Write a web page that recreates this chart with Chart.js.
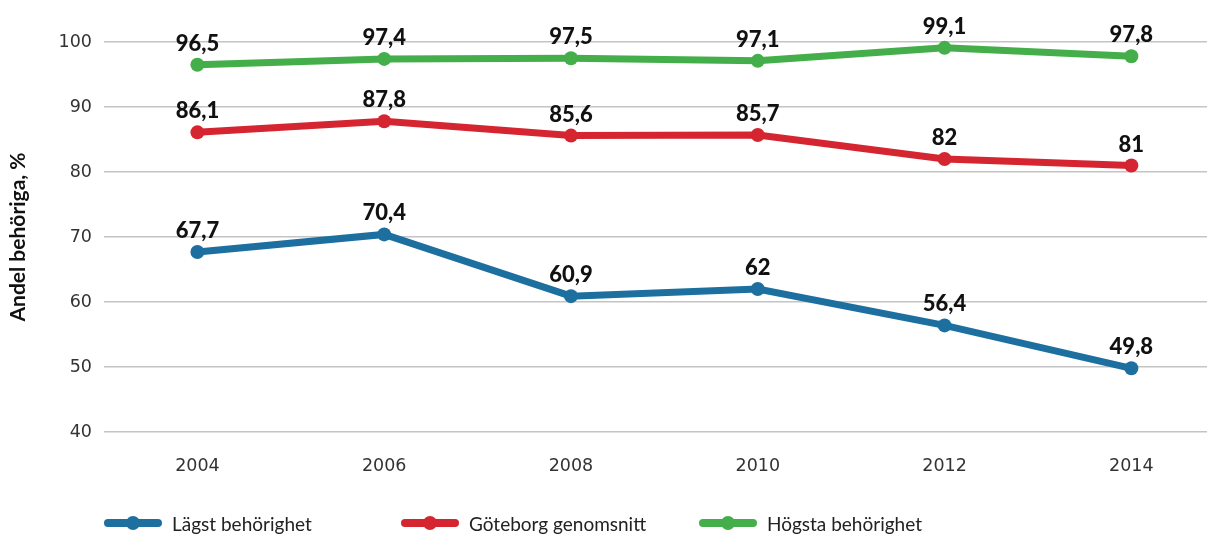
<!DOCTYPE html>
<html>
<head>
<meta charset="utf-8">
<script src="https://cdn.jsdelivr.net/npm/chart.js@4.4.1/dist/chart.umd.min.js"></script>
<style>
  html, body { margin: 0; padding: 0; background: #fff; overflow: hidden; }
  #wrap { position: relative; width: 1214px; height: 534px; }
  #c { position: absolute; left: 0; top: 0; }
  .leg { position: absolute; top: 512px; height: 22px; display: flex; align-items: center;
         font-family: Lato, "Open Sans", sans-serif; font-size: 19px; color: #222; }
  .sw { position: relative; width: 58px; height: 8px; border-radius: 4px; margin-right: 10px; }
  .sw::after { content: ""; position: absolute; left: 22px; top: -3px; width: 14px; height: 14px;
               border-radius: 50%; background: inherit; }
</style>
</head>
<body>
<div id="wrap">
  <canvas id="c" width="1214" height="534"></canvas>
  <div id="legend"></div>
</div>
<script>
const years = [2004, 2006, 2008, 2010, 2012, 2014];
const seriesNames = ["Lägst behörighet", "Göteborg genomsnitt", "Högsta behörighet"];
const lowest = [67.7, 70.4, 60.9, 62, 56.4, 49.8];
const average = [86.1, 87.8, 85.6, 85.7, 82, 81];
const highest = [96.5, 97.4, 97.5, 97.1, 99.1, 97.8];
const yTicks = [40, 50, 60, 70, 80, 90, 100];
const yTitle = "Andel behöriga, %";
const colors = ["#1d6fa0", "#d52530", "#44ae4a"];

const allSeries = [lowest, average, highest];
const datasets = allSeries.map((vals, i) => ({
  label: seriesNames[i],
  data: vals.map((v, j) => ({ x: years[j], y: v })),
  borderColor: colors[i],
  backgroundColor: colors[i],
  borderWidth: 7,
  pointRadius: 7,
  pointHoverRadius: 7,
  pointBorderWidth: 0,
  tension: 0,
  clip: false
}));

const fmt = v => String(v).replace('.', ',');

const labelPlugin = {
  id: 'valueLabels',
  afterDatasetsDraw(chart) {
    const ctx = chart.ctx;
    ctx.save();
    ctx.font = '900 22px Lato, "Open Sans", sans-serif';
    ctx.fillStyle = '#111';
    ctx.textAlign = 'center';
    ctx.textBaseline = 'middle';
    chart.data.datasets.forEach((ds, i) => {
      const meta = chart.getDatasetMeta(i);
      meta.data.forEach((pt, j) => {
        ctx.fillText(fmt(allSeries[i][j]), pt.x, pt.y - 21);
      });
    });
    ctx.restore();
  }
};

const tickFont = { family: '"DejaVu Sans", sans-serif', size: 17.5 };

new Chart(document.getElementById('c'), {
  type: 'line',
  data: { datasets },
  options: {
    responsive: false,
    animation: false,
    layout: { padding: { top: 42, left: 0, right: 0, bottom: 0 } },
    plugins: { legend: { display: false }, tooltip: { enabled: false } },
    scales: {
      x: {
        type: 'linear',
        min: 2003,
        max: 2014.81,
        afterBuildTicks: s => { s.ticks = years.map(v => ({ value: v })); },
        afterFit: s => { s.height = 102; },
        grid: { display: false, drawTicks: false },
        border: { display: false },
        ticks: {
          padding: 24,
          color: '#333',
          font: tickFont,
          callback: v => String(v),
          autoSkip: false,
          maxRotation: 0
        }
      },
      y: {
        min: 40,
        max: 100,
        afterBuildTicks: s => { s.ticks = yTicks.map(v => ({ value: v })); },
        afterFit: s => { s.width = 104; },
        grid: { color: '#c4c4c4', lineWidth: 1.5, drawTicks: false },
        border: { display: false },
        ticks: {
          padding: 12,
          color: '#333',
          font: tickFont
        },
        title: {
          display: true,
          text: yTitle,
          color: '#111',
          font: { family: 'Lato, "Open Sans", sans-serif', size: 21, weight: 'bold' },
          padding: { top: 6, bottom: 0 }
        }
      }
    }
  },
  plugins: [labelPlugin]
});

const legendLefts = [104, 401, 699];
const legend = document.getElementById('legend');
seriesNames.forEach((name, i) => {
  const item = document.createElement('div');
  item.className = 'leg';
  item.style.left = legendLefts[i] + 'px';
  const sw = document.createElement('span');
  sw.className = 'sw';
  sw.style.background = colors[i];
  const t = document.createElement('span');
  t.textContent = name;
  item.appendChild(sw);
  item.appendChild(t);
  legend.appendChild(item);
});
</script>
</body>
</html>
